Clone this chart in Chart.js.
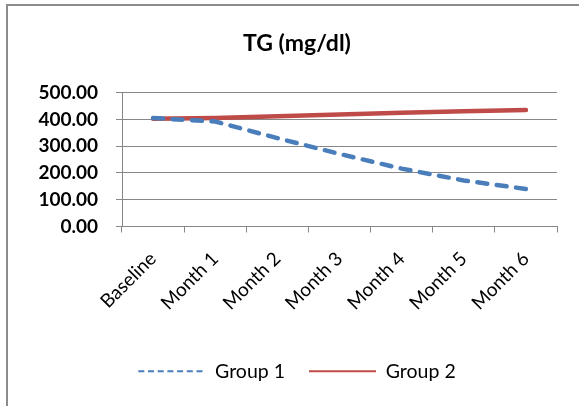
<!DOCTYPE html>
<html>
<head>
<meta charset="utf-8">
<script src="https://cdn.jsdelivr.net/npm/chart.js@4.4.1/dist/chart.umd.min.js"></script>
<style>
    html, body { margin: 0; padding: 0; background: #fff; }
    body { width: 579px; height: 406px; position: relative; overflow: hidden; }
    #frame {
        position: absolute; left: 6px; top: 4px; width: 600px; height: 420px;
        border: 2px solid #8c8c8c; box-sizing: border-box;
    }
    #wrap { position: absolute; left: 0; top: 0; width: 579px; height: 406px; }
</style>
</head>
<body>
<div id="frame"></div>
<div id="wrap"><canvas id="tgChart" width="579" height="406"></canvas></div>
<script>
const categories = ['Baseline', 'Month 1', 'Month 2', 'Month 3', 'Month 4', 'Month 5', 'Month 6'];
const group1 = [405, 392, 330, 271, 216, 172, 140];
const group2 = [402, 405, 412, 418, 425, 430, 435];
const yTicks = [0, 100, 200, 300, 400, 500];

const font = 'Lato, "Open Sans", sans-serif';

const ctx = document.getElementById('tgChart').getContext('2d');

const tgChart = new Chart(ctx, {
    type: 'line',
    data: {
        labels: categories,
        datasets: [
            {
                label: 'Group 1',
                data: group1,
                borderColor: '#4a7ebb',
                backgroundColor: '#4a7ebb',
                borderWidth: 4.5,
                borderDash: [10, 9.5],
                borderCapStyle: 'round',
                pointRadius: 0,
                tension: 0
            },
            {
                label: 'Group 2',
                data: group2,
                borderColor: '#be4b48',
                backgroundColor: '#be4b48',
                borderWidth: 4.5,
                borderCapStyle: 'round',
                pointRadius: 0,
                tension: 0
            }
        ]
    },
    options: {
        responsive: false,
        animation: false,
        layout: { padding: { left: 37, right: 22, top: 0, bottom: 15 } },
        plugins: {
            title: {
                display: true,
                text: 'TG (mg/dl)',
                color: '#000',
                font: { family: font, size: 23, weight: 'bold' },
                padding: { top: 30, bottom: 35 }
            },
            legend: {
                position: 'bottom',
                labels: {
                    color: '#000',
                    font: { family: font, size: 19.5 },
                    usePointStyle: true,
                    pointStyle: 'line',
                    pointStyleWidth: 67,
                    padding: 24,
                    generateLabels(chart) {
                        const items = Chart.defaults.plugins.legend.labels.generateLabels(chart);
                        items.forEach(item => {
                            item.lineWidth = 2;
                            item.lineCap = 'butt';
                            item.lineDash = item.datasetIndex === 0 ? [6, 3.7] : [];
                        });
                        return items;
                    }
                }
            },
            tooltip: { enabled: false }
        },
        scales: {
            x: {
                offset: true,
                afterFit(scale) { scale.height = 111; },
                grid: {
                    offset: true,
                    drawOnChartArea: false,
                    drawTicks: true,
                    tickLength: 6,
                    color: '#878787'
                },
                border: { display: true, color: '#878787' },
                ticks: {
                    minRotation: 45,
                    maxRotation: 45,
                    color: '#000',
                    font: { family: font, size: 19 },
                    padding: 15
                }
            },
            y: {
                min: 0,
                max: 500,
                afterFit(scale) { scale.width = 85; },
                afterBuildTicks(scale) {
                    scale.ticks = yTicks.map(v => ({ value: v }));
                },
                grid: {
                    color: '#878787',
                    tickLength: 6
                },
                border: { display: true, color: '#878787' },
                ticks: {
                    color: '#000',
                    font: { family: font, size: 19, weight: 'bold' },
                    padding: 18,
                    callback: v => Number(v).toFixed(2)
                }
            }
        }
    }
});
</script>
</body>
</html>
